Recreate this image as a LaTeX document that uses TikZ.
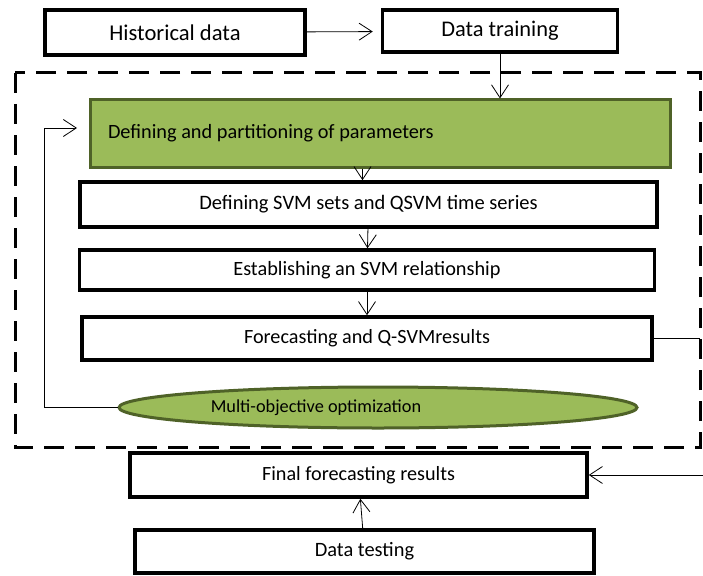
\documentclass[tikz,border=0pt]{standalone}
\usepackage{fontspec}
\setmainfont{Carlito}
\usetikzlibrary{arrows.meta,shapes.geometric}
\definecolor{leafgreen}{RGB}{155,187,89}
\definecolor{darkleaf}{RGB}{79,98,40}
\tikzset{
  stage/.style={draw, line width=3.5pt, fill=white, inner sep=0pt, align=center},
  greenstage/.style={draw=darkleaf, fill=leafgreen, line width=3pt, inner sep=0pt},
  link/.style={->, line width=0.8pt},
}
\newcommand{\fsz}[1]{\fontsize{#1}{#1}\selectfont}

\begin{document}
\begin{tikzpicture}[x=1pt, y=-1pt, >={Straight Barb[length=13pt,width=17pt]}]
\useasboundingbox (0,0) rectangle (703,575);
% dashed frame round the optimisation loop
\draw[line width=3pt, dash pattern=on 20pt off 11pt] (15,73) rectangle (700,447);

\node[stage, minimum width=260pt, minimum height=45pt, font=\fsz{22.6}] (hist) at (175,32.5) {Historical data};
\node[stage, minimum width=235pt, minimum height=42pt, font=\fsz{22.4}] (train) at (500,31) {Data training};
\node[greenstage, minimum height=67pt, inner xsep=18pt, font=\fsz{20.3}] (green) at (380,133.5) {\makebox[544pt][l]{Defining and partitioning of parameters}};
\node[stage, minimum width=577pt, minimum height=45pt, font=\fsz{20.5}] (svm) at (368.5,204.5) {Defining SVM sets and QSVM time series};
\node[stage, minimum width=575pt, minimum height=40pt, font=\fsz{20.3}] (estab) at (367,270) {Establishing an SVM relationship};
\node[stage, minimum width=570pt, minimum height=43pt, font=\fsz{20.2}] (fcast) at (367,338.5) {Forecasting and Q-SVMresults};
\node[greenstage, ellipse, minimum width=518pt, minimum height=41pt, font=\fsz{18.3}] (moo) at (378,407.5) {\hspace*{-124pt}Multi-objective optimization};
\node[stage, minimum width=457pt, minimum height=44pt, font=\fsz{20.2}] (final) at (358.5,475) {Final forecasting results};
\node[stage, minimum width=459pt, minimum height=43pt, font=\fsz{20.4}] (test) at (364.5,551.5) {Data testing};

\coordinate (loopturn) at (44,128);
\coordinate (looptip) at (77,128);
\coordinate (edgeA) at (700,337);
\coordinate (edgeB) at (703,475);

\draw[link, shorten >=8pt] (hist) -- (train);
\draw[link] (train.south) -- (train.south |- green.north);
\draw[link] ([xshift=-6pt]green.south -| svm.north) -- ([xshift=-6pt]svm.north);
\draw[link] (svm) -- (estab);
\draw[link] (estab) -- (fcast);
\draw[line width=0.8pt] (fcast.east) -- (fcast.east -| edgeA);
\draw[link] (edgeB) -- (final.east);
\draw[link] (test) -- (final);
\draw[link] (moo.west) -| (loopturn) -- (looptip);
\end{tikzpicture}
\end{document}
